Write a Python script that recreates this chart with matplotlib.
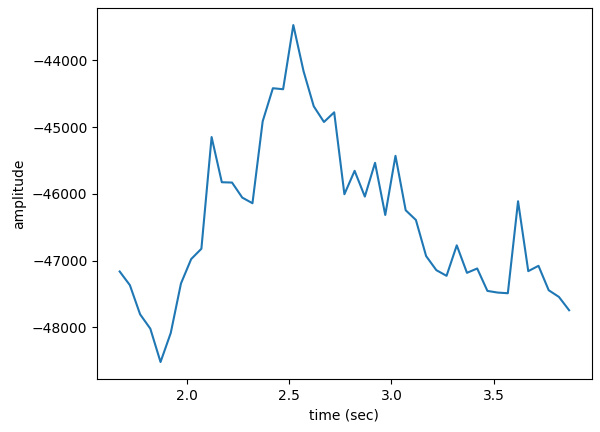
import numpy as np
import matplotlib
matplotlib.use("Agg")
import matplotlib.pyplot as plt

t0 = 1.67
dt = 0.05
amplitude = [-47163, -47368, -47805, -48020, -48520, -48085, -47343, -46977, -46822,
             -45148, -45825, -45830, -46055, -46140, -44912, -44416, -44431, -43469,
             -44160, -44687, -44922, -44777, -46005, -45654, -46040, -45534, -46316,
             -45429, -46245, -46391, -46932, -47143, -47228, -46771, -47183, -47118,
             -47454, -47479, -47489, -46110, -47158, -47078, -47444, -47544, -47744]
time = t0 + dt * np.arange(len(amplitude))

fig, ax = plt.subplots(figsize=(6.0, 4.32), dpi=100)
fig.subplots_adjust(left=0.162, right=0.986, top=0.981, bottom=0.123)
ax.plot(time, amplitude)
ax.set_xlabel("time (sec)")
ax.set_ylabel("amplitude")
fig.savefig("out.png")
